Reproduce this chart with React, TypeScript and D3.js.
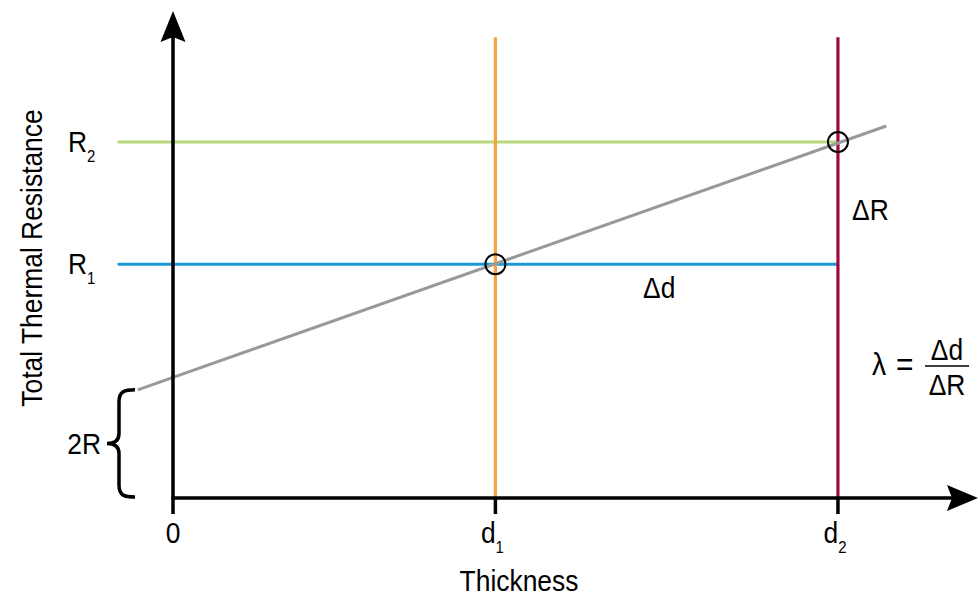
import React from 'react'
import * as d3 from 'd3'

// thickness positions of the marked points (arbitrary units)
const thicknessTicks = [0, 3.2, 6.6]
const thicknessLabels = ['0', 'd', 'd']
const thicknessSubs = ['', '1', '2']

// resistance levels R1, R2
const resistanceLevels = [4.82, 7.34]
const resistanceSubs = ['1', '2']
const levelColors = ['#1a9ad6', '#b6d77c']
const verticalColors = ['#f9a03f', '#a0073e']

// total resistance line (end points)
const lineThickness = [-0.35, 7.08]
const lineResistance = [2.23, 7.67]

const W = 979
const H = 601
const FONT = '"Liberation Sans", Arial, sans-serif'
const SX = 0.88 // narrow the glyphs like the original condensed face

// text squeezed horizontally around its own anchor point
const T = ({ x, y, size = 30, anchor = 'start', rotate = 0, children }: any) => (
  <text transform={`translate(${x},${y}) rotate(${rotate}) scale(${SX},1)`} fontSize={size} textAnchor={anchor}>
    {children}
  </text>
)

export default function App() {
  const x = d3.scaleLinear().domain([0, 8]).range([173, 979])
  const y = d3.scaleLinear().domain([0, 10]).range([498, 13])

  const x0 = x(0)
  const y0 = y(0)
  const xEnd = x(8) - 1
  const yEnd = y(10) - 2
  const topR = 9.5
  const leftD = -0.55

  const line = d3.line<number>()
    .x((_, i) => x(lineThickness[i]))
    .y(d => y(d))

  // brace for the 2R part
  const yt = y(lineResistance[0])
  const yb = y0 - 1
  const ym = (yt + yb) / 2
  const bx = 119
  const brace = `M135,${yt} C125,${yt} ${bx},${yt + 1} ${bx},${yt + 12} L${bx},${ym - 10} C${bx},${ym - 3} ${bx - 5},${ym} ${bx - 12},${ym} C${bx - 5},${ym} ${bx},${ym + 3} ${bx},${ym + 10} L${bx},${yb - 12} C${bx},${yb - 1} 125,${yb} 135,${yb}`

  const p1 = { x: x(thicknessTicks[1]), y: y(resistanceLevels[0]) }
  const p2 = { x: x(thicknessTicks[2]), y: y(resistanceLevels[1]) }

  return (
    <div style={{ position: 'absolute', left: 0, top: 0 }}>
      <svg width={W} height={H} style={{ display: 'block', background: '#fff' }} fontFamily={FONT}>
        {/* horizontal levels */}
        {resistanceLevels.map((r, i) => (
          <line key={'h' + i} x1={x(leftD)} x2={x(thicknessTicks[2])} y1={y(r)} y2={y(r)}
            stroke={levelColors[i]} strokeWidth={3.2} />
        ))}
        {/* vertical thickness lines */}
        {thicknessTicks.slice(1).map((d, i) => (
          <line key={'v' + i} x1={x(d)} x2={x(d)} y1={y(topR)} y2={y0}
            stroke={verticalColors[i]} strokeWidth={3.2} />
        ))}
        {/* total resistance line */}
        <path d={line(lineResistance) || ''} fill="none" stroke="#999999" strokeWidth={3} />

        {/* axes */}
        <line x1={x0} x2={x0} y1={y0 + 1.5} y2={yEnd + 20} stroke="#000" strokeWidth={3.5} />
        <line x1={x0 - 1.5} x2={xEnd - 20} y1={y0} y2={y0} stroke="#000" strokeWidth={3.5} />
        <path d={`M${x0},${yEnd} L${x0 - 12.5},${yEnd + 31} L${x0},${yEnd + 26} L${x0 + 12.5},${yEnd + 31} Z`} fill="#000" />
        <path d={`M${xEnd},${y0} L${xEnd - 31},${y0 - 13} L${xEnd - 26},${y0} L${xEnd - 31},${y0 + 13} Z`} fill="#000" />
        {thicknessTicks.map((d, i) => (
          <line key={'t' + i} x1={x(d)} x2={x(d)} y1={y0} y2={y0 + 16} stroke="#000" strokeWidth={3.5} />
        ))}

        {/* intersection circles */}
        {[p1, p2].map((p, i) => (
          <circle key={'c' + i} cx={p.x} cy={p.y} r={10} fill="none" stroke="#000" strokeWidth={2} />
        ))}

        {/* brace */}
        <path d={brace} fill="none" stroke="#000" strokeWidth={3.5} />

        {/* tick labels */}
        {thicknessTicks.map((d, i) => (
          <T key={'tl' + i} x={x(d) + (thicknessSubs[i] ? -3 : 0)} y={543} anchor="middle">
            {thicknessLabels[i]}
            {thicknessSubs[i] && <tspan fontSize={17} dy={10}>{thicknessSubs[i]}</tspan>}
          </T>
        ))}
        {resistanceLevels.map((r, i) => (
          <T key={'rl' + i} x={68} y={y(r) + 10}>
            R<tspan fontSize={17} dy={10}>{resistanceSubs[i]}</tspan>
          </T>
        ))}
        <T x={101} y={ym + 11} anchor="end">2R</T>

        {/* axis titles */}
        <T x={519} y={591} anchor="middle">Thickness</T>
        <T x={42} y={258} rotate={-90} anchor="middle">Total Thermal Resistance</T>

        {/* annotations */}
        <T x={643} y={298}>Δd</T>
        <T x={852} y={220}>ΔR</T>
        <T x={872} y={375} size={32}>λ</T>
        <T x={896} y={376} size={34}>=</T>
        <line x1={925} x2={969} y1={366} y2={366} stroke="#000" strokeWidth={1.5} />
        <T x={947} y={360} anchor="middle">Δd</T>
        <T x={947} y={395} anchor="middle">ΔR</T>
      </svg>
    </div>
  )
}
